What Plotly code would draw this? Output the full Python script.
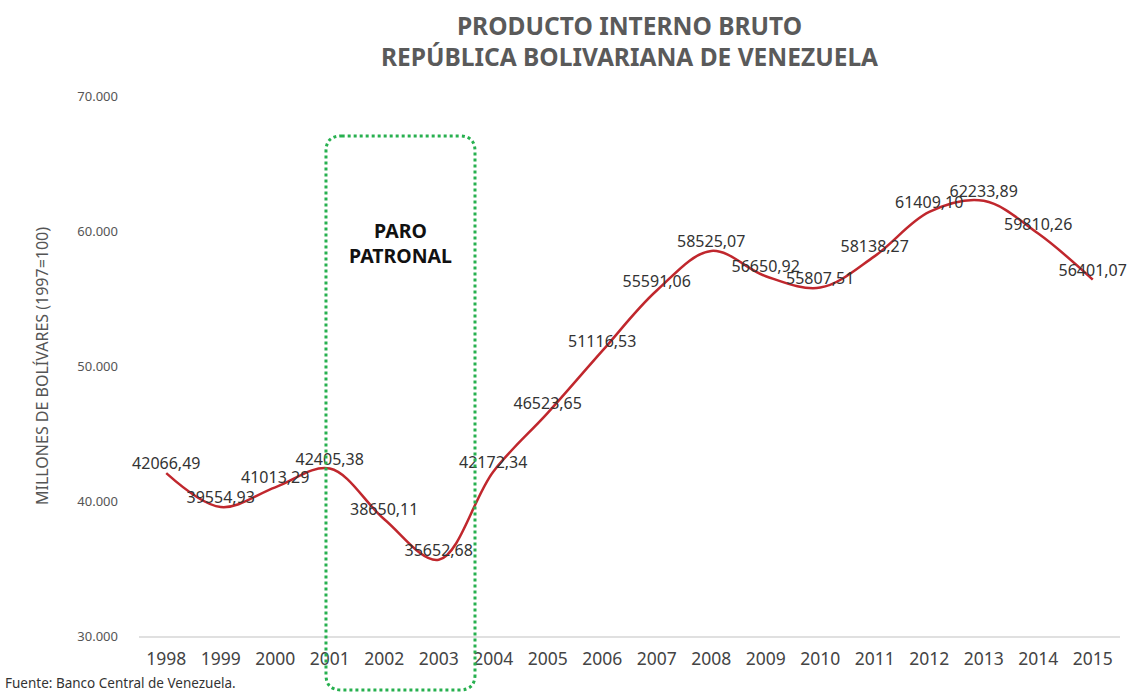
import plotly.graph_objects as go

# PIB a precios constantes (1997=100), millones de Bs.
years = [str(y) for y in range(1998, 2016)]
pib = [42066.49, 39554.93, 41013.29, 42405.38, 38650.11, 35652.68,
       42172.34, 46523.65, 51116.53, 55591.06, 58525.07, 56650.92,
       55807.51, 58138.27, 61409.10, 62233.89, 59810.26, 56401.07]

y_ticks = [30000, 40000, 50000, 60000, 70000]

fontFamily = "Noto Sans"
lineColor = "#c0272d"
boxColor = "#27b04f"

fig = go.Figure(go.Scatter(
    x=years, y=pib,
    mode="lines+text",
    line=dict(color=lineColor, width=2.5, shape="spline", smoothing=1),
    texttemplate="%{y:.2f}",
    textposition="top center",
    textfont=dict(family=fontFamily, size=16, color="#333333"),
    showlegend=False,
    cliponaxis=False,
))

# caja punteada del paro patronal (coordenadas de papel)
x0, x1, y0, y1 = 0.1906, 0.3425, -0.10, 0.926
rx, ry = 0.016, 0.028
box_path = (f"M {x0+rx},{y1} L {x1-rx},{y1} Q {x1},{y1} {x1},{y1-ry} "
            f"L {x1},{y0+ry} Q {x1},{y0} {x1-rx},{y0} "
            f"L {x0+rx},{y0} Q {x0},{y0} {x0},{y0+ry} "
            f"L {x0},{y1-ry} Q {x0},{y1} {x0+rx},{y1} Z")
fig.add_shape(type="path", path=box_path, xref="paper", yref="paper",
              line=dict(color=boxColor, width=3, dash="dot"))

fig.add_annotation(text="<b>PARO<br>PATRONAL</b>", x=0.2661, y=0.728,
                   xref="paper", yref="paper", xanchor="center",
                   yanchor="middle", showarrow=False,
                   font=dict(family=fontFamily, size=19.5, color="#111111"))

fig.add_annotation(text="Fuente: Banco Central de Venezuela.",
                   x=-0.1387, y=-0.087, xref="paper", yref="paper",
                   xanchor="left", yanchor="middle", showarrow=False,
                   font=dict(family=fontFamily, size=13.5, color="#333333"))

fig.update_layout(
    width=1128, height=694,
    margin=dict(l=139, r=8, t=96, b=58),
    paper_bgcolor="white", plot_bgcolor="white",
    separators=",.",
    font=dict(family=fontFamily, color="#555555"),
    title=dict(text="<b>PRODUCTO INTERNO BRUTO<br>REPÚBLICA BOLIVARIANA DE VENEZUELA</b>",
               xref="paper", x=0.5, xanchor="center",
               yref="container", y=1 - 34.5 / 694, yanchor="middle",
               font=dict(family=fontFamily, size=24.5, color="#5a5a5a")),
    xaxis=dict(type="category", range=[-0.5, 17.5], showgrid=False,
               showline=True, linecolor="#e0e0e0", linewidth=1.5, ticks="",
               tickfont=dict(size=17.5, color="#444444"),
               ticklabelstandoff=6),
    yaxis=dict(range=[30000, 70000], tickvals=y_ticks, tickformat=",.0f",
               showgrid=False, zeroline=False, ticks="",
               tickfont=dict(size=13, color="#555555"),
               ticklabelstandoff=20,
               title=dict(text="MILLONES DE BOLÍVARES (1997=100)",
                          font=dict(size=16, color="#555555"), standoff=24)),
)

# sin margen del body para que la figura ocupe toda la ventana
fig.write_html("out.html", config={"displayModeBar": False},
               post_script="document.body.style.margin='0px';")
